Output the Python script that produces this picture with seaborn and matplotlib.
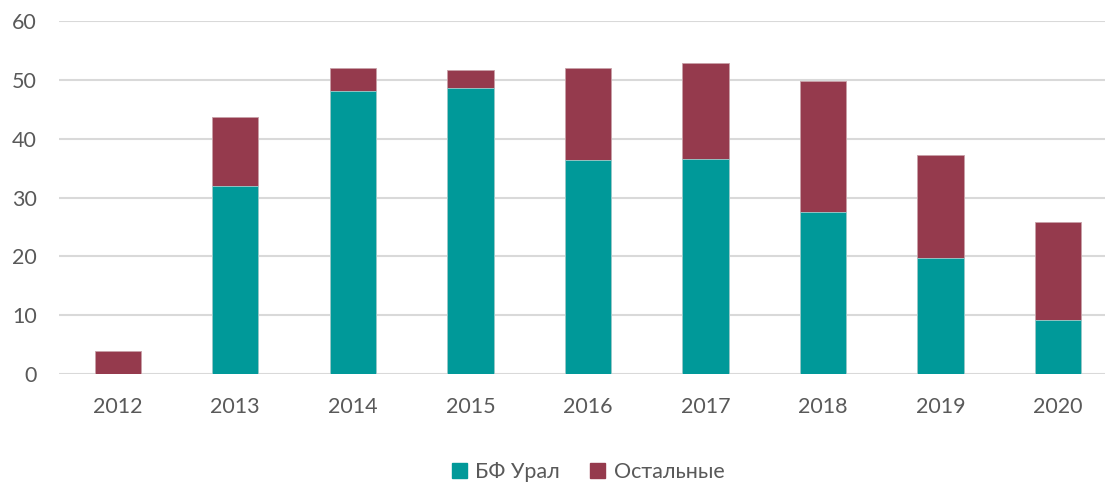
import matplotlib
matplotlib.use('Agg')
import matplotlib.pyplot as plt
import matplotlib.patches as mpatches
import seaborn as sns
import pandas as pd

years = ['2012', '2013', '2014', '2015', '2016', '2017', '2018', '2019', '2020']
ural = [0, 32.0, 48.1, 48.5, 36.3, 36.6, 27.6, 19.8, 9.2]
others = [3.9, 11.6, 3.9, 3.2, 15.7, 16.3, 22.2, 17.5, 16.7]

TEAL = '#009999'
MAROON = '#953A4D'
TEXT = '#595959'

df = pd.DataFrame({'year': years, 'ural': ural, 'others': others})
df['total'] = df['ural'] + df['others']

sns.set_style('white')
plt.rcParams['font.family'] = ['Lato', 'Open Sans', 'DejaVu Sans']

fig = plt.figure(figsize=(11.05, 4.82), dpi=100)
ax = fig.add_axes([59 / 1105, 0.2234, 1 - 59 / 1105, 0.957 - 0.2234])

# stacked: totals first (maroon), Ural share drawn on top (teal)
sns.barplot(data=df, x='year', y='total', color=MAROON, width=0.394,
            saturation=1, edgecolor='#c8a0a8', linewidth=0.6, ax=ax)
sns.barplot(data=df, x='year', y='ural', color=TEAL, width=0.394,
            saturation=1, edgecolor='#9fd0d0', linewidth=0.6, ax=ax)

ax.set_ylim(0, 60)
ax.set_xlim(-0.5, 8.4)
ax.set_yticks(range(0, 61, 10))
ax.yaxis.grid(True, color='#D9D9D9', linewidth=1.5)
ax.set_axisbelow(True)
for s in ax.spines.values():
    s.set_visible(False)
ax.set_xlabel('')
ax.set_ylabel('')
ax.tick_params(axis='both', length=0, labelsize=15.5, colors=TEXT)
ax.tick_params(axis='x', pad=16)
ax.tick_params(axis='y', pad=16)

handles = [mpatches.Patch(color=TEAL, label='БФ Урал'),
           mpatches.Patch(color=MAROON, label='Остальные')]
fig.legend(handles=handles, loc='center', bbox_to_anchor=(588 / 1105, 10 / 482),
           ncol=2, frameon=False, fontsize=15.5, labelcolor=TEXT,
           handlelength=0.7, handleheight=0.7, handletextpad=0.4, columnspacing=1.4)

fig.savefig('out.png', dpi=100)
